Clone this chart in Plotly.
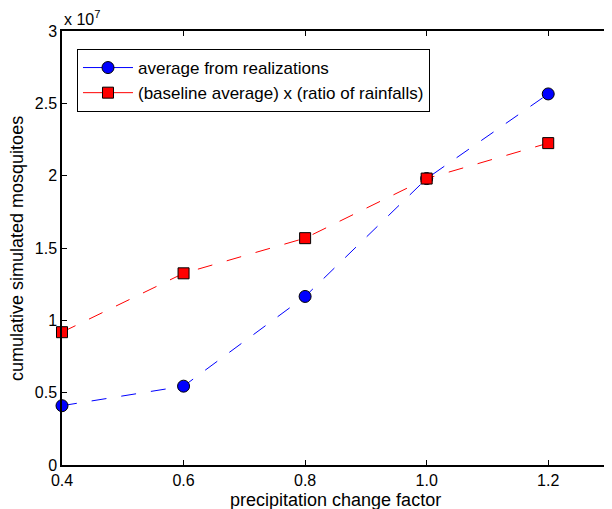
import plotly.graph_objects as go

precip_factor = [0.4, 0.6, 0.8, 1.0, 1.2]
avg_realizations = [0.41e7, 0.545e7, 1.165e7, 1.98e7, 2.565e7]
baseline_ratio = [0.918e7, 1.325e7, 1.568e7, 1.98e7, 2.225e7]
x_ticks = [0.4, 0.6, 0.8, 1.0, 1.2]
x_ticklabels = ["0.4", "0.6", "0.8", "1.0", "1.2"]
y_ticks = [0, 0.5e7, 1e7, 1.5e7, 2e7, 2.5e7, 3e7]
y_ticklabels = ["0", "0.5", "1", "1.5", "2", "2.5", "3"]
series_names = ["average from realizations", "(baseline average) x (ratio of rainfalls)"]

FONT = "Liberation Sans, Arial, Helvetica, sans-serif"
BLUE = "#0000ff"
RED = "#ff0000"

fig = go.Figure()
styles = [
    (avg_realizations, BLUE, "circle", 12),
    (baseline_ratio, RED, "square", 11),
]
for (vals, col, sym, sz), name in zip(styles, series_names):
    fig.add_trace(go.Scatter(
        x=precip_factor, y=vals, mode="lines+markers", name=name,
        line=dict(color=col, width=1, dash="15px,15px"),
        marker=dict(symbol=sym, size=sz, color=col, line=dict(color="black", width=1)),
        cliponaxis=False, showlegend=False, legendgroup=name,
    ))
for (vals, col, sym, sz), name in zip(styles, series_names):
    # legend entry with solid line, as in the reference legend
    fig.add_trace(go.Scatter(
        x=[None], y=[None], mode="lines+markers", name=name,
        line=dict(color=col, width=1),
        marker=dict(symbol=sym, size=sz, color=col, line=dict(color="black", width=1)),
        showlegend=True, legendgroup=name,
    ))

axis_common = dict(
    showline=True, linecolor="black", linewidth=1.5, mirror="ticks",
    ticks="inside", ticklen=5, tickcolor="black", tickwidth=1,
    showgrid=False, zeroline=False, automargin=False,
    tickfont=dict(family=FONT, size=16, color="black"),
)

# page body adds an 8px margin, so the figure is 8px smaller than the window
fig.update_layout(
    width=604, height=501,
    margin=dict(l=54, r=3, t=23, b=44),
    paper_bgcolor="white", plot_bgcolor="white",
    font=dict(family=FONT, size=16, color="black"),
    xaxis=dict(range=[0.4, 1.3], tickvals=x_ticks, ticktext=x_ticklabels, **axis_common),
    yaxis=dict(range=[0, 3e7], tickvals=y_ticks, ticktext=y_ticklabels, **axis_common),
    legend=dict(x=0.0274, y=0.9585, xanchor="left", yanchor="top",
                bgcolor="white", bordercolor="black", borderwidth=1,
                itemwidth=50, tracegroupgap=0,
                font=dict(family=FONT, size=17, color="black")),
    annotations=[
        dict(text="x 10<sup>7</sup>", xref="paper", yref="paper",
             x=0, y=1, xanchor="left", yanchor="bottom", yshift=1, showarrow=False,
             font=dict(family=FONT, size=16, color="black")),
        dict(text="precipitation change factor", xref="paper", yref="paper",
             x=0.5, y=-0.0737, xanchor="center", yanchor="middle", yshift=-3,
             showarrow=False, font=dict(family=FONT, size=18, color="black")),
        dict(text="cumulative simulated mosquitoes", xref="paper", yref="paper",
             x=-0.0823, y=0.5, xanchor="center", yanchor="middle", textangle=-90,
             showarrow=False, font=dict(family=FONT, size=18, color="black")),
    ],
)

fig.write_html("out.html")
